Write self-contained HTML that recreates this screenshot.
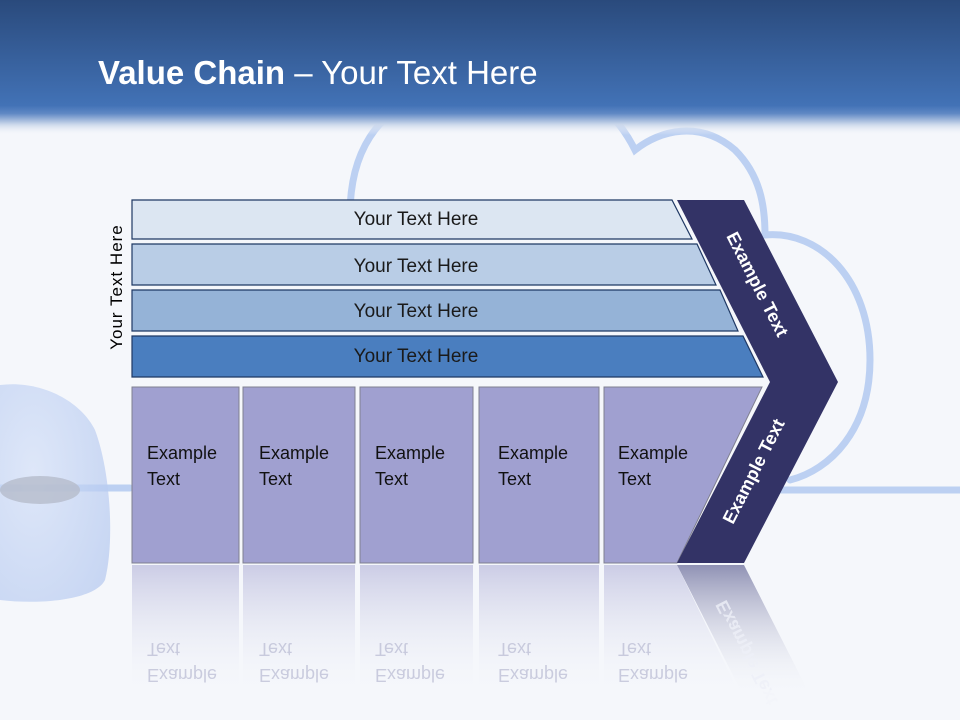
<!DOCTYPE html>
<html><head><meta charset="utf-8"><style>
html,body{margin:0;padding:0;}
body{width:960px;height:720px;overflow:hidden;background:#f5f7fb;font-family:"Liberation Sans",sans-serif;position:relative;}
svg{position:absolute;left:0;top:0;}
</style></head><body>
<svg width="960" height="720" viewBox="0 0 960 720" xmlns="http://www.w3.org/2000/svg">
<defs>
<linearGradient id="hdr" x1="0" y1="0" x2="0" y2="1">
<stop offset="0" stop-color="#2a4a7c"/>
<stop offset="0.78" stop-color="#4272b6"/>
<stop offset="0.84" stop-color="#5f88c4"/>
<stop offset="0.92" stop-color="#c9d6ea"/>
<stop offset="1" stop-color="#f5f7fb" stop-opacity="0"/>
</linearGradient>
<linearGradient id="refl" x1="0" y1="0" x2="0" y2="1">
<stop offset="0" stop-color="#c9cae4" stop-opacity="0.95"/>
<stop offset="1" stop-color="#f5f7fb" stop-opacity="0"/>
</linearGradient>
<linearGradient id="reflc" x1="0" y1="0" x2="0" y2="1">
<stop offset="0" stop-color="#8a8cb0" stop-opacity="0.95"/>
<stop offset="1" stop-color="#f5f7fb" stop-opacity="0"/>
</linearGradient>
<radialGradient id="mouse" cx="0.3" cy="0.4" r="0.8">
<stop offset="0" stop-color="#d4e0f8"/>
<stop offset="1" stop-color="#b4c8ef"/>
</radialGradient>
</defs>
<g fill="none" stroke="#bcd0f2" stroke-width="7" stroke-linecap="round">
<path d="M350 215 C350 150 380 110 420 100 M590 100 C610 110 625 130 635 150 C660 130 700 120 735 150 C760 175 765 205 765 235 C820 230 870 280 870 360 C870 430 830 470 790 480"/>
<path d="M770 490 L960 490"/>
<path d="M0 488 L130 488"/>
</g>
<path d="M0 385 C40 380 80 400 95 430 C110 470 115 540 105 580 C95 600 40 605 0 600 Z" fill="url(#mouse)" opacity="0.7"/>
<ellipse cx="40" cy="490" rx="40" ry="14" fill="#b5bccb" opacity="0.8"/>
<rect x="0" y="0" width="960" height="135" fill="url(#hdr)"/>
<text x="98" y="84" fill="#fff" font-size="33" font-family="Liberation Sans,sans-serif"><tspan font-weight="bold">Value Chain</tspan> – Your Text Here</text>
<g stroke="#1f3864" stroke-width="1.2">
<polygon points="132,200 672,200 692,239 132,239" fill="#dce6f2"/>
<polygon points="132,244 697,244 716,285 132,285" fill="#b9cde6"/>
<polygon points="132,290 720,290 738,331 132,331" fill="#95b3d7"/>
<polygon points="132,336 743,336 763,377 132,377" fill="#4a7ebf"/>
</g>
<g font-size="19" fill="#1a1a1a" text-anchor="middle">
<text x="416" y="225">Your Text Here</text>
<text x="416" y="272">Your Text Here</text>
<text x="416" y="317">Your Text Here</text>
<text x="416" y="362">Your Text Here</text>
</g>
<text transform="translate(122,287) rotate(-90)" text-anchor="middle" font-size="17" letter-spacing="1" fill="#000">Your Text Here</text>
<g fill="#a0a0d0" stroke="#808090" stroke-width="1">
<rect x="132" y="387" width="107" height="176"/>
<rect x="243" y="387" width="112" height="176"/>
<rect x="360" y="387" width="113" height="176"/>
<rect x="479" y="387" width="120" height="176"/>
<polygon points="604,387 762,387 677,563 604,563"/>
</g>
<g font-size="18" fill="#111">
<text x="147" y="459">Example</text><text x="147" y="485">Text</text>
<text x="259" y="459">Example</text><text x="259" y="485">Text</text>
<text x="375" y="459">Example</text><text x="375" y="485">Text</text>
<text x="498" y="459">Example</text><text x="498" y="485">Text</text>
<text x="618" y="459">Example</text><text x="618" y="485">Text</text>
</g>
<polygon points="677,200 744,200 838,382 744,563 677,563 770,382" fill="#333366"/>
<text transform="translate(752,287) rotate(63)" text-anchor="middle" font-size="18" font-weight="bold" fill="#fff">Example Text</text>
<text transform="translate(759,474) rotate(-63)" text-anchor="middle" font-size="18" font-weight="bold" fill="#fff">Example Text</text>
<g>
<rect x="132" y="565" width="107" height="130" fill="url(#refl)"/>
<rect x="243" y="565" width="112" height="130" fill="url(#refl)"/>
<rect x="360" y="565" width="113" height="130" fill="url(#refl)"/>
<rect x="479" y="565" width="120" height="130" fill="url(#refl)"/>
<polygon points="604,565 677,565 740,695 604,695" fill="url(#refl)"/>
<polygon points="677,565 744,565 810,695 743,695" fill="url(#reflc)"/>
</g>
<g font-size="18" fill="#b8bad2" opacity="0.7" transform="translate(0,1128) scale(1,-1)">
<text x="147" y="459">Example</text><text x="147" y="485">Text</text>
<text x="259" y="459">Example</text><text x="259" y="485">Text</text>
<text x="375" y="459">Example</text><text x="375" y="485">Text</text>
<text x="498" y="459">Example</text><text x="498" y="485">Text</text>
<text x="618" y="459">Example</text><text x="618" y="485">Text</text>
</g>
<text transform="translate(752,650) rotate(63) scale(1,-1)" text-anchor="middle" font-size="18" font-weight="bold" fill="#eef0f8" opacity="0.8">Example Text</text>
<rect x="0" y="690" width="960" height="30" fill="#f5f7fb" opacity="0.7"/>
</svg>
</body></html>
